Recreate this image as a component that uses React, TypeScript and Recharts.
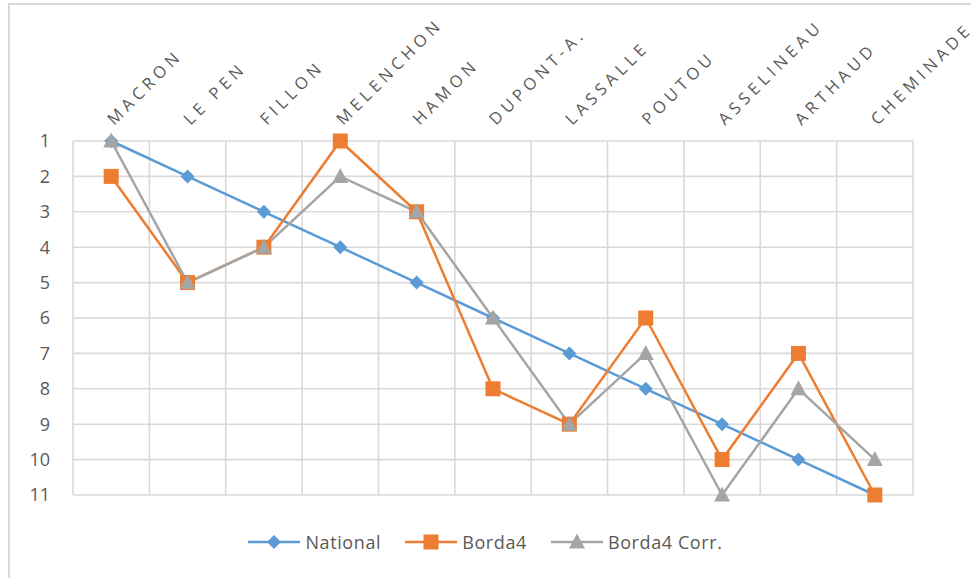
import {
  CartesianGrid,
  Legend,
  Line,
  LineChart,
  XAxis,
  YAxis,
} from "recharts";

const candidates = [
  "MACRON",
  "LE PEN",
  "FILLON",
  "MELENCHON",
  "HAMON",
  "DUPONT-A.",
  "LASSALLE",
  "POUTOU",
  "ASSELINEAU",
  "ARTHAUD",
  "CHEMINADE",
];
const national = [1, 2, 3, 4, 5, 6, 7, 8, 9, 10, 11];
const borda4 = [2, 5, 4, 1, 3, 8, 9, 6, 10, 7, 11];
const borda4Corr = [1, 5, 4, 2, 3, 6, 9, 7, 11, 8, 10];
const rankTicks = [1, 2, 3, 4, 5, 6, 7, 8, 9, 10, 11];

const data = candidates.map((name, i) => ({
  name,
  national: national[i],
  borda4: borda4[i],
  borda4Corr: borda4Corr[i],
}));

const BLUE = "#5b9bd5";
const ORANGE = "#ed7d31";
const GRAY = "#a5a5a5";
const TEXT = "#595959";
const GRID = "#d9d9d9";
const FONT = "'Open Sans', 'Noto Sans', sans-serif";

const PLOT_WIDTH = 840;
const HALF_BAND = PLOT_WIDTH / candidates.length / 2;

const series = [
  { key: "national", name: "National", color: BLUE, shape: "diamond" },
  { key: "borda4", name: "Borda4", color: ORANGE, shape: "square" },
  { key: "borda4Corr", name: "Borda4 Corr.", color: GRAY, shape: "triangle" },
];

function Marker({ cx, cy, shape, color }: any) {
  if (cx == null || cy == null) return null;
  if (shape === "diamond") {
    const r = 7;
    return (
      <path
        d={`M${cx},${cy - r}L${cx + r},${cy}L${cx},${cy + r}L${cx - r},${cy}Z`}
        fill={color}
      />
    );
  }
  if (shape === "square") {
    const s = 7.5;
    return <rect x={cx - s} y={cy - s} width={s * 2} height={s * 2} fill={color} />;
  }
  const h = 15;
  const w = 16;
  return (
    <path
      d={`M${cx},${cy - h / 2 - 1}L${cx + w / 2},${cy + h / 2 - 1}L${cx - w / 2},${cy + h / 2 - 1}Z`}
      fill={color}
    />
  );
}

function makeDot(shape: string, color: string) {
  return (props: any) => (
    <Marker key={`${shape}-${props.index}`} cx={props.cx} cy={props.cy} shape={shape} color={color} />
  );
}

function CandidateTick({ x, y, payload }: any) {
  return (
    <text
      x={0}
      y={0}
      transform={`translate(${x + 3},${y - 7}) rotate(-45)`}
      textAnchor="start"
      fill={TEXT}
      fontSize={16.5}
      letterSpacing={4.5}
      fontFamily={FONT}
    >
      {payload.value}
    </text>
  );
}

function LegendContent() {
  return (
    <div
      style={{
        display: "flex",
        justifyContent: "center",
        alignItems: "center",
        height: 30,
        fontFamily: FONT,
        fontSize: 18,
        letterSpacing: 0.6,
        color: TEXT,
      }}
    >
      {series.map((s) => (
        <div key={s.key} style={{ display: "flex", alignItems: "center", margin: "0 12px" }}>
          <svg width={52} height={20}>
            <line x1={0} y1={10} x2={52} y2={10} stroke={s.color} strokeWidth={2.5} />
            <Marker cx={26} cy={10} shape={s.shape} color={s.color} />
          </svg>
          <span style={{ marginLeft: 5 }}>{s.name}</span>
        </div>
      ))}
    </div>
  );
}

export default function App() {
  return (
    <div style={{ position: "absolute", left: 0, top: 0, width: 971, height: 578, background: "#fff", overflow: "hidden" }}>
      <div
        style={{
          position: "absolute",
          left: 8,
          top: 3,
          width: 980,
          height: 600,
          borderLeft: `2px solid ${GRID}`,
          borderTop: `2px solid ${GRID}`,
        }}
      />
      <div style={{ position: "absolute", left: 0, top: 0 }}>
        <LineChart
          width={971}
          height={578}
          data={data}
          margin={{ top: 0, right: 58, bottom: 53, left: 0 }}
        >
          <CartesianGrid
            stroke={GRID}
            strokeWidth={1.6}
            verticalCoordinatesGenerator={({ offset }: any) =>
              Array.from({ length: candidates.length + 1 }, (_, i) =>
                offset.left + (i * offset.width) / candidates.length
              )
            }
          />
          <XAxis
            dataKey="name"
            orientation="top"
            height={141}
            axisLine={false}
            tickLine={false}
            interval={0}
            padding={{ left: HALF_BAND, right: HALF_BAND }}
            tick={<CandidateTick />}
          />
          <YAxis
            domain={[1, 11]}
            ticks={rankTicks}
            reversed
            width={73}
            axisLine={false}
            tickLine={false}
            tickSize={0}
            tickMargin={23}
            interval={0}
            tick={{ fill: TEXT, fontSize: 18, fontFamily: FONT }}
          />
          <Legend
            content={<LegendContent />}
            verticalAlign="bottom"
            wrapperStyle={{ top: 527, bottom: "auto", left: 0, width: 971 }}
          />
          {series.map((s) => (
            <Line
              key={s.key}
              type="linear"
              dataKey={s.key}
              name={s.name}
              stroke={s.color}
              strokeWidth={2.5}
              dot={makeDot(s.shape, s.color)}
              activeDot={false}
              isAnimationActive={false}
            />
          ))}
        </LineChart>
      </div>
    </div>
  );
}
